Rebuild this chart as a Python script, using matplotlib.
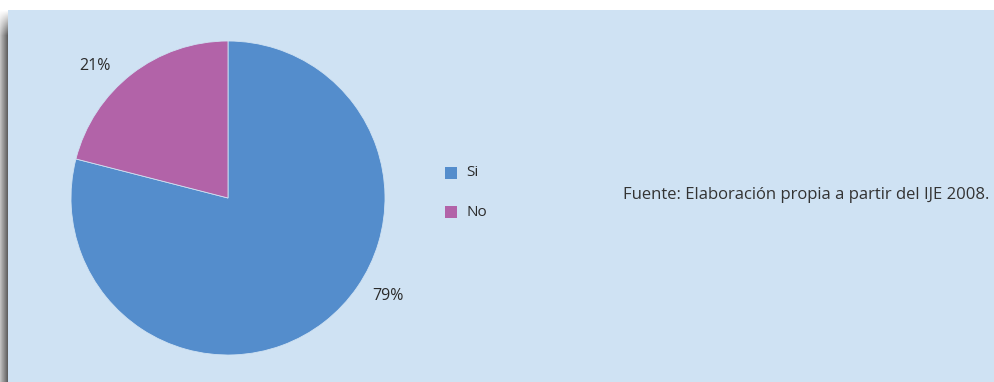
import numpy as np
import matplotlib
matplotlib.use('Agg')
from matplotlib import pyplot as plt
from matplotlib.patches import Rectangle

plt.rcParams['font.family'] = ['Open Sans', 'DejaVu Sans']

# datos del gráfico
categorias = ['Si', 'No']
porcentajes = [79, 21]
colores = ['#548dcc', '#b263a8']
fuente = 'Fuente: Elaboración propia a partir del IJE 2008.'

W, H = 994, 382
fig = plt.figure(figsize=(W / 100, H / 100), dpi=100)
fig.patch.set_facecolor('white')

# fondo: panel celeste con sombra gris a la izquierda
bg = fig.add_axes([0, 0, 1, 1])
bg.set_xlim(0, W)
bg.set_ylim(H, 0)
bg.axis('off')
perfil = np.linspace(0.75, 0.38, 8)
ys = np.arange(10, H)
atenua = np.clip((ys - 10) / 25.0, 0, 1)
sombra = 1 - (1 - perfil[None, :]) * atenua[:, None]
bg.imshow(sombra, cmap='gray', vmin=0, vmax=1, extent=(0, 8, H, 10),
          aspect='auto', interpolation='bilinear')
bg.add_patch(Rectangle((8, 10), W - 8, H - 10, color='#cfe2f3', lw=0))

# pastel
cx, cy, r = 228, 198, 157
ax = fig.add_axes([(cx - r) / W, (H - cy - r) / H, 2 * r / W, 2 * r / H])
ax.set_facecolor('none')
wedges, _ = ax.pie(porcentajes, colors=colores, startangle=90,
                   counterclock=False, radius=1,
                   wedgeprops=dict(linewidth=0.6, edgecolor='#cfe2f3'))
ax.set_xlim(-1, 1)
ax.set_ylim(-1, 1)
ax.set_aspect('auto')

# etiquetas de porcentaje
bg.text(388, 296, f'{porcentajes[0]}%', ha='center', va='center',
        fontsize=11.5, color='#2b2b2b')
bg.text(95, 66, f'{porcentajes[1]}%', ha='center', va='center',
        fontsize=11.5, color='#2b2b2b')

# leyenda
for i, (cat, col) in enumerate(zip(categorias, colores)):
    y = 173 + i * 39
    bg.add_patch(Rectangle((445, y - 6), 12, 12, color=col, lw=0))
    bg.text(466, y, cat, ha='left', va='center', fontsize=11, color='#2b2b2b')

# fuente
bg.text(989, 195, fuente, ha='right', va='center', fontsize=12,
        color='#333333')

fig.savefig('out.png', dpi=100, facecolor='white')
